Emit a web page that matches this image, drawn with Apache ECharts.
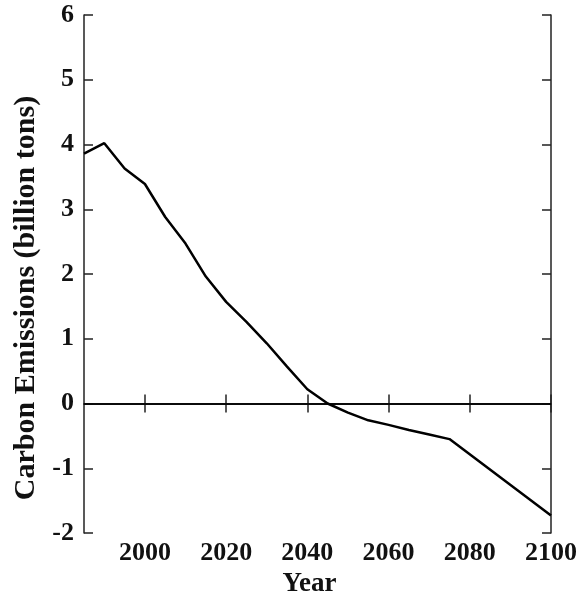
<!DOCTYPE html>
<html>
<head>
<meta charset="utf-8">
<script src="https://cdn.jsdelivr.net/npm/echarts@6/dist/echarts.min.js"></script>
<style>html,body{margin:0;padding:0;background:#fff}#c{width:576px;height:595px}</style>
</head>
<body>
<div id="c"></div>
<script>
var years = [1985, 1990, 1995, 2000, 2005, 2010, 2015, 2020, 2025, 2030, 2035, 2040, 2045, 2050, 2055, 2060, 2065, 2070, 2075, 2100];
var emissions = [3.86, 4.02, 3.63, 3.39, 2.88, 2.47, 1.96, 1.57, 1.26, 0.93, 0.57, 0.22, 0.0, -0.14, -0.26, -0.33, -0.41, -0.48, -0.55, -1.73];
var xTicks = [2000, 2020, 2040, 2060, 2080, 2100];
var yTicks = [-2, -1, 0, 1, 2, 3, 4, 5, 6];

var chart = echarts.init(document.getElementById('c'));
var font = 'Liberation Serif';
var lineCol = '#222';
var seriesData = years.map(function (y, i) { return [y, emissions[i]]; });

chart.setOption({
  animation: false,
  backgroundColor: '#fff',
  grid: { left: 84, right: 25, top: 15, bottom: 62, containLabel: false, outerBoundsMode: 'none' },
  xAxis: [{
    type: 'value', min: 1985, max: 2100,
    name: 'Year', nameLocation: 'middle', nameGap: 34,
    nameTextStyle: { fontFamily: font, fontWeight: 'bold', fontSize: 27, color: '#111', padding: [0, 16, 0, 0] },
    axisLine: { show: true, lineStyle: { color: lineCol, width: 1.5 } },
    axisTick: { show: true, inside: true, length: 9, customValues: xTicks, lineStyle: { color: lineCol, width: 1.5 } },
    axisLabel: { customValues: xTicks, margin: 7, fontFamily: font, fontWeight: 'bold', fontSize: 26, color: '#111',
      formatter: function (v) { return String(v); } },
    splitLine: { show: false }
  }, {
    type: 'value', min: 1985, max: 2100, position: 'top',
    axisLine: { show: true, lineStyle: { color: lineCol, width: 1.5 } },
    axisTick: { show: true, inside: true, length: 9, customValues: xTicks, lineStyle: { color: lineCol, width: 1.5 } },
    axisLabel: { show: false },
    splitLine: { show: false }
  }],
  yAxis: [{
    type: 'value', min: -2, max: 6, interval: 1,
    name: 'Carbon Emissions (billion tons)', nameLocation: 'middle', nameGap: 43,
    nameTextStyle: { fontFamily: font, fontWeight: 'bold', fontSize: 30, color: '#111', padding: [0, 48, 0, 0] },
    axisLine: { show: true, lineStyle: { color: lineCol, width: 1.5 } },
    axisTick: { show: true, inside: true, length: 9, lineStyle: { color: lineCol, width: 1.5 } },
    axisLabel: { margin: 10, fontFamily: font, fontWeight: 'bold', fontSize: 26, color: '#111',
      customValues: yTicks, formatter: function (v) { return String(v); } },
    splitLine: { show: false }
  }, {
    type: 'value', min: -2, max: 6, interval: 1, position: 'right',
    axisLine: { show: true, lineStyle: { color: lineCol, width: 1.5 } },
    axisTick: { show: true, inside: true, length: 9, lineStyle: { color: lineCol, width: 1.5 } },
    axisLabel: { show: false },
    splitLine: { show: false }
  }],
  series: [{
    type: 'line',
    data: seriesData,
    showSymbol: false,
    lineStyle: { color: '#000', width: 2.5 },
    markLine: {
      silent: true, symbol: 'none', label: { show: false },
      lineStyle: { color: '#000', width: 1.5, type: 'solid' },
      data: [{ yAxis: 0 }]
    }
  }]
});
</script>
</body>
</html>
